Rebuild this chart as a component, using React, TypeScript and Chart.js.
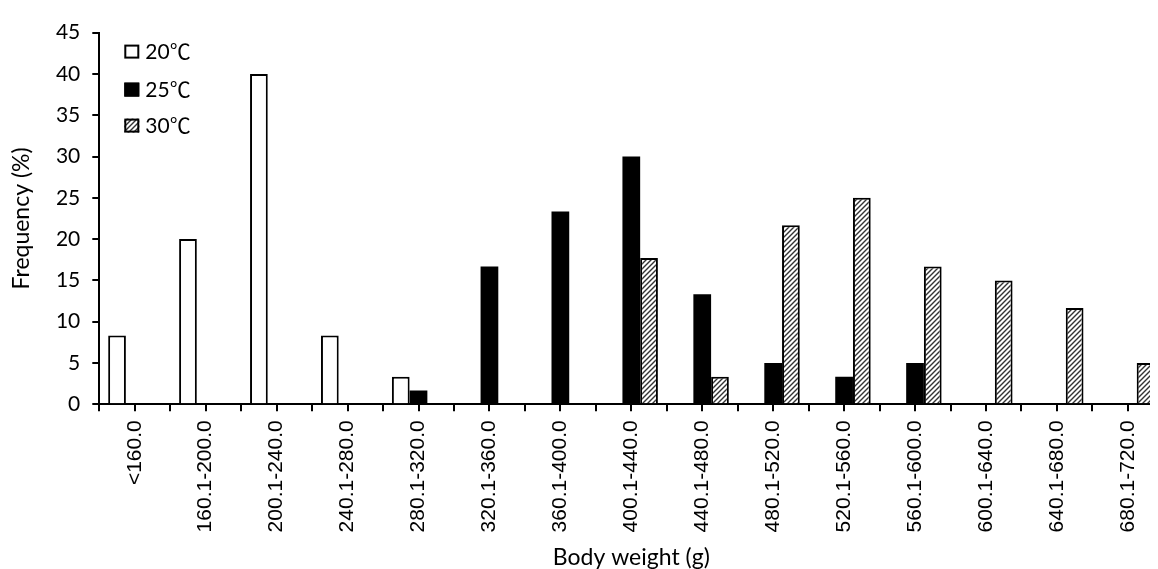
import React, { useEffect, useRef } from "react";
import { Chart, registerables } from "chart.js";

Chart.register(...registerables);

const categories = [
  "<160.0",
  "160.1-200.0",
  "200.1-240.0",
  "240.1-280.0",
  "280.1-320.0",
  "320.1-360.0",
  "360.1-400.0",
  "400.1-440.0",
  "440.1-480.0",
  "480.1-520.0",
  "520.1-560.0",
  "560.1-600.0",
  "600.1-640.0",
  "640.1-680.0",
  "680.1-720.0",
];
const seriesLabels = ["20℃", "25℃", "30℃"];
const series20 = [8.33, 20, 40, 8.33, 3.33, 0, 0, 0, 0, 0, 0, 0, 0, 0, 0];
const series25 = [0, 0, 0, 0, 1.67, 16.67, 23.33, 30, 13.33, 5, 3.33, 5, 0, 0, 0];
const series30 = [0, 0, 0, 0, 0, 0, 0, 17.7, 3.33, 21.67, 25, 16.67, 15, 11.67, 5];
const yMin = 0;
const yMax = 45;
const yStep = 5;
const xTitle = "Body weight (g)";
const yTitle = "Frequency (%)";

const TITLE_FONT = "Lato, 'Noto Sans', sans-serif";
const LEGEND_FONT = "Lato, 'Noto Sans CJK SC', sans-serif";

function makeHatch(): CanvasPattern | string {
  const c = document.createElement("canvas");
  c.width = 5;
  c.height = 5;
  const g = c.getContext("2d");
  if (!g) return "#999";
  g.fillStyle = "#ffffff";
  g.fillRect(0, 0, 5, 5);
  g.strokeStyle = "#333333";
  g.lineWidth = 1.4;
  g.beginPath();
  g.moveTo(-1, 6);
  g.lineTo(6, -1);
  g.moveTo(-1, 1);
  g.lineTo(1, -1);
  g.moveTo(4, 6);
  g.lineTo(6, 4);
  g.stroke();
  return g.createPattern(c, "repeat") || "#999";
}

export default function App() {
  const ref = useRef<HTMLCanvasElement | null>(null);

  useEffect(() => {
    if (!ref.current) return;
    const hatch = makeHatch();

    const styles = [
      { bg: "#ffffff", border: "#000000", bw: 2 },
      { bg: "#000000", border: "#000000", bw: 0 },
      { bg: hatch, border: "#000000", bw: 2 },
    ];

    const extras = {
      id: "extras",
      afterDraw(chart: any) {
        const { ctx, chartArea } = chart;
        const x = chart.scales.x;
        ctx.save();
        ctx.strokeStyle = "#000";
        ctx.lineWidth = 2;
        for (let i = 0; i < categories.length; i++) {
          const px = Math.round(x.getPixelForValue(i));
          ctx.beginPath();
          ctx.moveTo(px, chartArea.bottom);
          ctx.lineTo(px, chartArea.bottom + 7);
          ctx.stroke();
        }
        // legend
        const bx = chartArea.left + 25;
        const rows = [chartArea.top + 19, chartArea.top + 57, chartArea.top + 93];
        ctx.font = `21px ${LEGEND_FONT}`;
        ctx.textBaseline = "middle";
        ctx.textAlign = "left";
        for (let k = 0; k < seriesLabels.length; k++) {
          const cy = rows[k];
          const s = styles[k];
          ctx.fillStyle = s.bg as any;
          ctx.fillRect(bx, cy - 7, 15, 14);
          ctx.lineWidth = 2;
          ctx.strokeStyle = "#000";
          ctx.strokeRect(bx + 1, cy - 6, 13, 12);
          ctx.fillStyle = "#000";
          ctx.fillText(seriesLabels[k], bx + 21, cy + 1);
        }
        ctx.restore();
      },
    };

    const chart = new Chart(ref.current, {
      type: "bar",
      data: {
        labels: categories,
        datasets: [series20, series25, series30].map((d, k) => ({
          label: seriesLabels[k],
          data: d,
          backgroundColor: styles[k].bg as any,
          borderColor: styles[k].border,
          borderWidth: styles[k].bw,
          categoryPercentage: 0.75,
          barPercentage: 1.0,
        })),
      },
      options: {
        animation: false,
        responsive: false,
        devicePixelRatio: 1,
        layout: { padding: { top: 14.7, right: 24.7, left: 0, bottom: 0 } },
        plugins: {
          legend: { display: false },
          tooltip: { enabled: false },
        },
        scales: {
          x: {
            offset: true,
            grid: {
              offset: true,
              drawOnChartArea: false,
              drawTicks: true,
              tickLength: 7,
              color: "#000",
              lineWidth: 2,
            },
            border: { display: true, color: "#000", width: 2 },
            ticks: {
              minRotation: 90,
              maxRotation: 90,
              autoSkip: false,
              padding: 9,
              color: "#000",
              font: { family: "'Liberation Sans', Arial, sans-serif", size: 21 },
            },
            title: {
              display: true,
              text: xTitle,
              color: "#000",
              padding: { top: 0, bottom: -2 },
              font: { family: TITLE_FONT, size: 23 },
            },
            afterFit(scale: any) {
              scale.height = 164.7;
            },
          },
          y: {
            min: yMin,
            max: yMax,
            grid: {
              drawOnChartArea: false,
              drawTicks: true,
              tickLength: 7,
              color: "#000",
              lineWidth: 2,
            },
            border: { display: true, color: "#000", width: 2 },
            ticks: {
              stepSize: yStep,
              padding: 12,
              color: "#000",
              font: { family: TITLE_FONT, size: 21 },
            },
            title: {
              display: true,
              text: yTitle,
              color: "#000",
              padding: 0,
              font: { family: TITLE_FONT, size: 23 },
            },
            afterFit(scale: any) {
              scale.width = 91.3;
            },
          },
        },
      },
      plugins: [extras],
    });

    return () => chart.destroy();
  }, []);

  return (
    <div style={{ width: 1150, height: 561, overflow: "hidden" }}>
      <canvas ref={ref} width={1180} height={561} style={{ display: "block", width: 1180, height: 561 }} />
    </div>
  );
}
